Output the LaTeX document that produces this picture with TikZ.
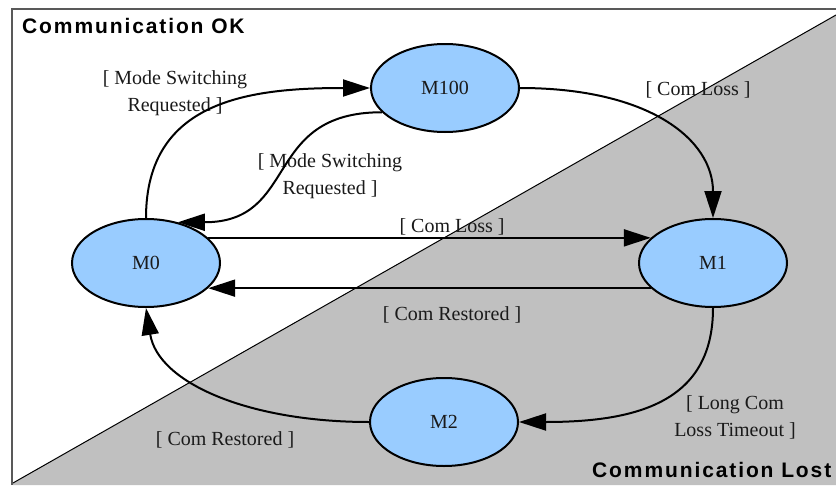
\documentclass[tikz,border=0pt]{standalone}
\usepackage{fontspec}
\setmainfont{Liberation Serif}
\newfontfamily\titlefont{Liberation Sans}[LetterSpace=9]
\usetikzlibrary{shapes.geometric,arrows.meta}
\definecolor{stateblue}{HTML}{99CCFF}
\definecolor{lostgray}{HTML}{C0C0C0}
\definecolor{txt}{HTML}{1A1A1A}
\begin{document}
\begin{tikzpicture}[x=1pt,y=-1pt,
  state/.style={ellipse,draw=black,line width=2pt,fill=stateblue,minimum width=148pt,minimum height=88pt,inner sep=0pt,font=\fontsize{20}{24}\selectfont,text=txt},
  lbl/.style={align=center,inner sep=0pt,font=\fontsize{20}{27}\selectfont,text=txt},
  trans/.style={line width=2pt,-{Triangle[length=27pt,width=17pt]}},
  title/.style={inner sep=0pt,font=\titlefont\bfseries\fontsize{21}{24}\selectfont,anchor=base west,text=black}]
\useasboundingbox (0,0) rectangle (836,485);
% background regions
\fill[lostgray] (13,483) -- (836,15) -- (836,485) -- (13,485) -- cycle;
\draw[line width=1pt] (13,483) -- (836,15);
\draw[gray!70!black, line width=1.2pt] (12,485) -- (12,9) -- (836,9);
% titles
\node[title] (tok) at (22,33) {Communication OK};
\node[title] (tlost) at (592,477) {Communication Lost};
% states
\node[state] (M100) at (445,88) {M100};
\node[state] (M0) at (146,263) {M0};
\node[state] (M1) at (713,263) {M1};
\node[state] (M2) at (444,422) {M2};
% labels
\node[lbl] (l1) at (175,93) {[ Mode Switching\\Requested ]};
\node[lbl] (l2) at (330,176) {[ Mode Switching\\Requested ]};
\node[lbl] (l3) at (698,90) {[ Com Loss ]};
\node[lbl] (l4) at (452,227) {[ Com Loss ]};
\node[lbl] (l5) at (452,315) {[ Com Restored ]};
\node[lbl] (l6) at (735,417) {[ Long Com\\Loss Timeout ]};
\node[lbl] (l7) at (225,440) {[ Com Restored ]};
% transitions
\draw[trans] (M0.north) .. controls +(0,-118) and +(-120,0) .. (M100.west);
\draw[trans] (M100.201) .. controls +(-120,0) and +(122,0) .. (M0.52);
\draw[trans] (M100.east) .. controls +(130,0) and +(0,-78) .. (M1.north);
\draw[trans] (M0.22) -- (M1.158);
\draw[trans] (M1.202) -- (M0.-22);
\draw[trans] (M1.south) .. controls +(0,93) and +(120,0) .. (M2.east);
\draw[trans] (M2.west) .. controls +(-120,0) and +(12,75) .. (M0.south);
\end{tikzpicture}
\end{document}
